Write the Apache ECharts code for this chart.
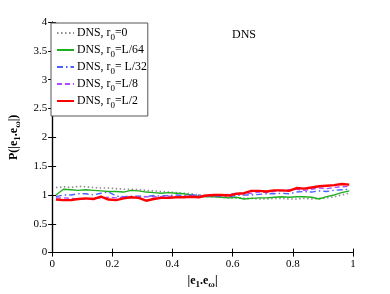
<!DOCTYPE html>
<html><head><meta charset="utf-8">
<script src="https://cdn.jsdelivr.net/npm/echarts@6/dist/echarts.min.js"></script>
<style>html,body{margin:0;padding:0;background:#fff}#c{width:390px;height:294px}</style>
</head><body><div id="c"></div>
<script>
const xVals = [0.0125,0.0375,0.0625,0.0875,0.1125,0.1375,0.1625,0.1875,0.2125,0.2375,0.2625,0.2875,0.3125,0.3375,0.3625,0.3875,0.4125,0.4375,0.4625,0.4875,0.5125,0.5375,0.5625,0.5875,0.6125,0.6375,0.6625,0.6875,0.7125,0.7375,0.7625,0.7875,0.8125,0.8375,0.8625,0.8875,0.9125,0.9375,0.9625,0.9875];
const seriesNames = ['DNS, r0=0','DNS, r0=L/64','DNS, r0= L/32','DNS, r0=L/8','DNS, r0=L/2'];
const r0_0   = [1.13,1.14,1.13,1.15,1.14,1.13,1.12,1.12,1.11,1.10,1.10,1.09,1.08,1.07,1.06,1.05,1.04,1.03,1.02,1.00,0.99,0.97,0.96,0.95,0.95,0.94,0.94,0.93,0.93,0.94,0.94,0.93,0.93,0.94,0.93,0.94,0.95,0.97,1.00,1.03];
const r0_L64 = [1.00,1.10,1.09,1.08,1.09,1.08,1.07,1.06,1.06,1.05,1.08,1.07,1.05,1.04,1.03,1.04,1.03,1.02,1.00,0.98,0.97,0.97,0.96,0.95,0.96,0.93,0.94,0.95,0.95,0.96,0.97,0.96,0.97,0.97,0.96,0.93,0.97,1.00,1.04,1.07];
const r0_L32 = [0.97,1.00,1.00,1.02,1.02,1.00,1.03,1.05,0.98,0.97,0.98,0.98,0.97,0.99,0.98,0.99,1.00,0.99,1.00,1.00,0.98,0.97,0.98,0.97,0.99,1.00,1.00,1.01,1.02,1.02,1.03,1.02,1.05,1.06,1.05,1.07,1.06,1.08,1.09,1.10];
const r0_L8  = [0.95,0.95,0.94,0.93,0.93,0.94,0.95,0.96,0.95,0.96,0.97,0.96,0.97,0.97,0.97,0.98,0.97,0.98,0.98,0.99,0.98,0.99,1.00,1.01,1.03,1.02,1.03,1.05,1.04,1.06,1.07,1.09,1.10,1.08,1.10,1.12,1.11,1.13,1.14,1.15];
const r0_L2  = [0.92,0.91,0.91,0.93,0.94,0.93,0.97,0.92,0.91,0.94,0.96,0.95,0.90,0.93,0.95,0.95,0.96,0.96,0.97,0.96,0.99,1.00,1.00,0.99,1.02,1.03,1.07,1.07,1.06,1.08,1.08,1.07,1.12,1.11,1.13,1.15,1.16,1.17,1.19,1.18];
const xTicks = [0,0.2,0.4,0.6,0.8,1];
const yTicks = [0,0.5,1,1.5,2,2.5,3,3.5,4];

const font = '"Liberation Serif","Times New Roman",serif';
const pair = arr => xVals.map((x,i)=>[x,arr[i]]);
const styles = [
  {color:'#8c8c8c', type:[1.5,2.5], width:1.6},
  {color:'#1fb01f', type:'solid', width:1.4},
  {color:'#4a63ff', type:[6,3,1.5,3], width:1.4},
  {color:'#b048ff', type:[5,3], width:1.4},
  {color:'#ff0000', type:'solid', width:2.4}
];
const datas = [r0_0,r0_L64,r0_L32,r0_L8,r0_L2];
const series = seriesNames.map((n,i)=>({
  name:n, type:'line', data:pair(datas[i]), showSymbol:false, symbol:'none',
  lineStyle:styles[i], itemStyle:{color:styles[i].color}, animation:false, z: 2+i
}));
const chart = echarts.init(document.getElementById('c'));
const axisCommon = {
  axisLine:{show:true,lineStyle:{color:'#000',width:1.2}},
  axisTick:{show:true,inside:true,length:4,lineStyle:{color:'#000'}},
  splitLine:{show:false}
};
chart.setOption({
  animation:false,
  grid:{left:51,top:22,right:37,bottom:32,show:false},
  legend:{
    orient:'vertical', left:51, top:23,
    itemWidth:17, itemHeight:12, itemGap:2,
    padding:[4,1,6,5],
    backgroundColor:'#fff', borderColor:'#555', borderWidth:1,
    itemStyle:{opacity:0},
    data:seriesNames,
    formatter: n => n.replace('r0','r{sub|0}'),
    textStyle:{fontFamily:font,fontSize:11.8,color:'#000',padding:[0,0,0,-2],
      rich:{sub:{fontFamily:font,fontSize:9,padding:[9,0,0,0],color:'#000'}}}
  },
  xAxis:[
    Object.assign({type:'value',min:0,max:1,interval:0.2,position:'bottom',
      axisLabel:{fontFamily:font,fontSize:11,color:'#000',margin:6},
      name:'{b||}{b|e}{s|1}{b|.e}{s|ω}{b||}', nameLocation:'middle', nameGap:17,
      nameTextStyle:{rich:{b:{fontFamily:font,fontSize:12,fontWeight:'bold',color:'#000'},s:{fontFamily:font,fontSize:9,fontWeight:'bold',color:'#000',padding:[8,0,0,0]}}}
    },axisCommon),
    Object.assign({type:'value',min:0,max:1,interval:0.2,position:'top',axisLabel:{show:false}},axisCommon)
  ],
  yAxis:[
    Object.assign({type:'value',min:0,max:4,interval:0.5,position:'left',
      axisLabel:{fontFamily:font,fontSize:11,color:'#000',margin:5},
      name:'{b|P(|e}{s|1}{b|.e}{s|ω}{b||)}', nameLocation:'middle', nameGap:20, nameRotate:90,
      nameTextStyle:{rich:{b:{fontFamily:font,fontSize:12,fontWeight:'bold',color:'#000'},s:{fontFamily:font,fontSize:9,fontWeight:'bold',color:'#000',padding:[8,0,0,0]}}}
    },axisCommon),
    Object.assign({type:'value',min:0,max:4,interval:0.5,position:'right',axisLabel:{show:false}},axisCommon)
  ],
  graphic:[{type:'text',left:232,top:29,style:{text:'DNS',font:'12px '+font,fill:'#000'}}],
  series:series
});
</script></body></html>
